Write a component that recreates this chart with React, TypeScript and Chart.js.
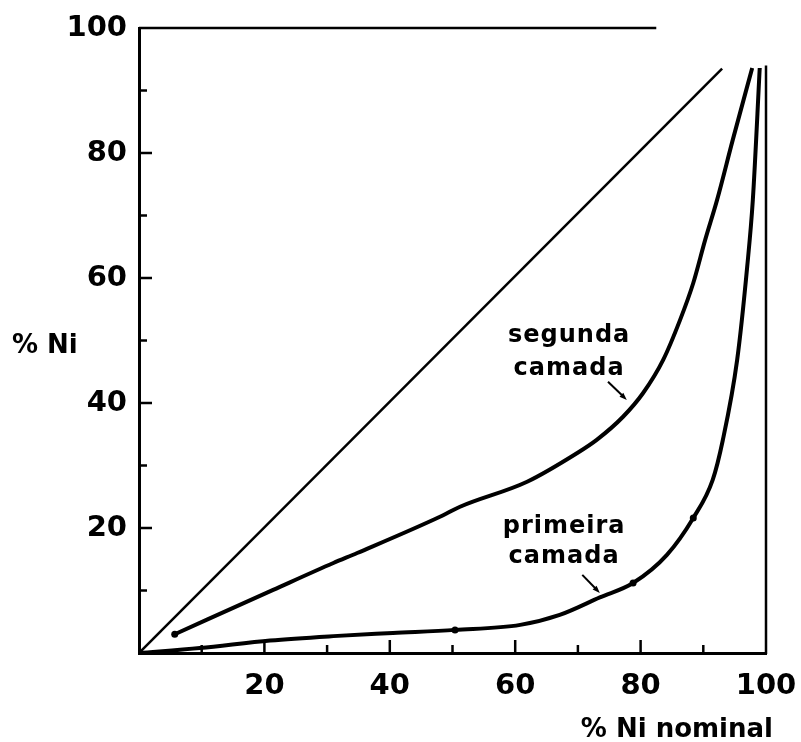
import React, { useEffect, useRef } from "react";
import { Chart, registerables } from "chart.js";

Chart.register(...registerables);

// ---- data ----
const diagonalX = [0, 93];
const diagonalY = [0, 93.5];

const segundaX = [5.7, 21.4, 31, 34.8, 48, 51.2, 61.9, 69.9, 73, 77.2, 80.4, 83.6, 86.3, 88.4, 90.3, 92.2, 94.7, 97.8];
const segundaY = [3.0, 10.1, 14.4, 16.0, 21.8, 23.4, 27.4, 32.0, 34.1, 37.8, 41.6, 46.9, 53.3, 59.2, 66.1, 72.5, 82.1, 93.6];

const primeiraX = [0, 9.7, 20.9, 31, 40.5, 50.4, 60.8, 67.1, 73.5, 78.8, 84.2, 88.4, 91.5, 93.1, 95.4, 97, 97.9, 99];
const primeiraY = [0, 0.8, 2.0, 2.7, 3.2, 3.7, 4.5, 6.1, 8.9, 11.2, 15.7, 21.6, 27.7, 34.0, 46.9, 61.8, 72.5, 93.6];

const dotX = [5.7, 50.4, 78.8, 88.4];
const dotY = [3.0, 3.7, 11.2, 21.6];

const tickValues = [10, 20, 30, 40, 50, 60, 70, 80, 90];
const labeledTicks = [20, 40, 60, 80, 100];

const yAxisTitle = "% Ni";
const xAxisTitle = "% Ni nominal";
const segundaLabel = ["segunda", "camada"];
const primeiraLabel = ["primeira", "camada"];

const zip = (xs: number[], ys: number[]) => xs.map((x, i) => ({ x, y: ys[i] }));

const NOTE_FONT = "bold 24px 'DejaVu Sans'";

function drawArrow(ctx: CanvasRenderingContext2D, x1: number, y1: number, x2: number, y2: number) {
  const ang = Math.atan2(y2 - y1, x2 - x1);
  const head = 8;
  ctx.lineWidth = 2;
  ctx.beginPath();
  ctx.moveTo(x1, y1);
  ctx.lineTo(x2 - Math.cos(ang) * head * 0.6, y2 - Math.sin(ang) * head * 0.6);
  ctx.stroke();
  ctx.beginPath();
  ctx.moveTo(x2, y2);
  ctx.lineTo(x2 - head * Math.cos(ang - 0.35), y2 - head * Math.sin(ang - 0.35));
  ctx.lineTo(x2 - head * Math.cos(ang + 0.35), y2 - head * Math.sin(ang + 0.35));
  ctx.closePath();
  ctx.fill();
}

const framePlugin = {
  id: "frame",
  afterDraw(chart: any) {
    const { ctx } = chart;
    const x = chart.scales.x;
    const y = chart.scales.y;
    const x0 = x.getPixelForValue(0);
    const y0 = y.getPixelForValue(0);
    ctx.save();
    ctx.strokeStyle = "#000";
    ctx.fillStyle = "#000";
    ctx.lineCap = "butt";

    // inward ticks
    tickValues.forEach((v) => {
      const len = v % 20 === 0 ? 13 : 8;
      const px = x.getPixelForValue(v);
      ctx.lineWidth = 2.5;
      ctx.beginPath();
      ctx.moveTo(px, y0);
      ctx.lineTo(px, y0 - len);
      ctx.stroke();
      const py = y.getPixelForValue(v);
      ctx.beginPath();
      ctx.moveTo(x0, py);
      ctx.lineTo(x0 + len, py);
      ctx.stroke();
    });

    // partial top border
    ctx.lineWidth = 2.5;
    ctx.beginPath();
    ctx.moveTo(x0, y.getPixelForValue(100));
    ctx.lineTo(x.getPixelForValue(82.5), y.getPixelForValue(100));
    ctx.stroke();

    // right border
    ctx.lineWidth = 2.5;
    ctx.beginPath();
    ctx.moveTo(x.getPixelForValue(100), y0 + 1);
    ctx.lineTo(x.getPixelForValue(100), y.getPixelForValue(94));
    ctx.stroke();

    // annotation arrows
    drawArrow(ctx, x.getPixelForValue(74.8), y.getPixelForValue(43.4), x.getPixelForValue(77.8), y.getPixelForValue(40.5));
    drawArrow(ctx, x.getPixelForValue(70.7), y.getPixelForValue(12.5), x.getPixelForValue(73.5), y.getPixelForValue(9.6));

    // annotation text
    ctx.font = NOTE_FONT;
    (ctx as any).letterSpacing = "1px";
    ctx.textAlign = "center";
    ctx.textBaseline = "alphabetic";
    ctx.fillText(segundaLabel[0], x.getPixelForValue(68.6), y.getPixelForValue(49.8));
    ctx.fillText(segundaLabel[1], x.getPixelForValue(68.6), y.getPixelForValue(44.5));
    ctx.fillText(primeiraLabel[0], x.getPixelForValue(67.8), y.getPixelForValue(19.2));
    ctx.fillText(primeiraLabel[1], x.getPixelForValue(67.8), y.getPixelForValue(14.4));
    (ctx as any).letterSpacing = "0px";

    // axis titles
    ctx.font = "bold 26px 'DejaVu Sans'";
    ctx.textAlign = "left";
    ctx.fillText(yAxisTitle, 12, y.getPixelForValue(50) + 12);
    ctx.textAlign = "right";
    ctx.fillText(xAxisTitle, x.getPixelForValue(100) + 7, y0 + 84);
    ctx.restore();
  },
};

export default function App() {
  const ref = useRef<HTMLCanvasElement | null>(null);

  useEffect(() => {
    if (!ref.current) return;
    const tickCb = (v: any) => (labeledTicks.includes(Number(v)) ? String(v) : "");
    const chart = new Chart(ref.current, {
      type: "line",
      data: {
        datasets: [
          {
            data: zip(diagonalX, diagonalY),
            borderColor: "#000",
            borderWidth: 2.5,
            pointRadius: 0,
            tension: 0,
          },
          {
            data: zip(segundaX, segundaY),
            borderColor: "#000",
            borderWidth: 4,
            pointRadius: 0,
            cubicInterpolationMode: "monotone",
          },
          {
            data: zip(primeiraX, primeiraY),
            borderColor: "#000",
            borderWidth: 4,
            pointRadius: 0,
            cubicInterpolationMode: "monotone",
          },
          {
            data: zip(dotX, dotY),
            showLine: false,
            pointRadius: 3.5,
            pointBackgroundColor: "#000",
            pointBorderWidth: 0,
          },
        ],
      },
      options: {
        responsive: false,
        animation: false,
        events: [],
        layout: { padding: { top: 28, right: 35, left: 0, bottom: 0 } },
        plugins: { legend: { display: false }, tooltip: { enabled: false } },
        scales: {
          x: {
            type: "linear",
            min: 0,
            max: 100,
            grid: { display: false, drawTicks: false },
            border: { display: true, color: "#000", width: 3 },
            ticks: {
              stepSize: 10,
              autoSkip: false,
              maxRotation: 0,
              padding: 16,
              color: "#000",
              font: { family: "'DejaVu Sans'", size: 29, weight: "bold" },
              callback: tickCb,
            },
            afterFit: (s: any) => {
              s.height = 89;
              s.paddingLeft = 0;
              s.paddingRight = 0;
            },
          },
          y: {
            type: "linear",
            min: 0,
            max: 100,
            grid: { display: false, drawTicks: false },
            border: { display: true, color: "#000", width: 3 },
            ticks: {
              stepSize: 10,
              autoSkip: false,
              padding: 12,
              color: "#000",
              font: { family: "'DejaVu Sans'", size: 29, weight: "bold" },
              callback: tickCb,
            },
            afterFit: (s: any) => {
              s.width = 139;
              s.paddingTop = 0;
              s.paddingBottom = 0;
            },
          },
        },
      },
      plugins: [framePlugin],
    });
    return () => chart.destroy();
  }, []);

  return (
    <div style={{ position: "fixed", left: 0, top: 0, width: 801, height: 742, background: "#fff" }}>
      <canvas ref={ref} width={801} height={742} />
    </div>
  );
}
